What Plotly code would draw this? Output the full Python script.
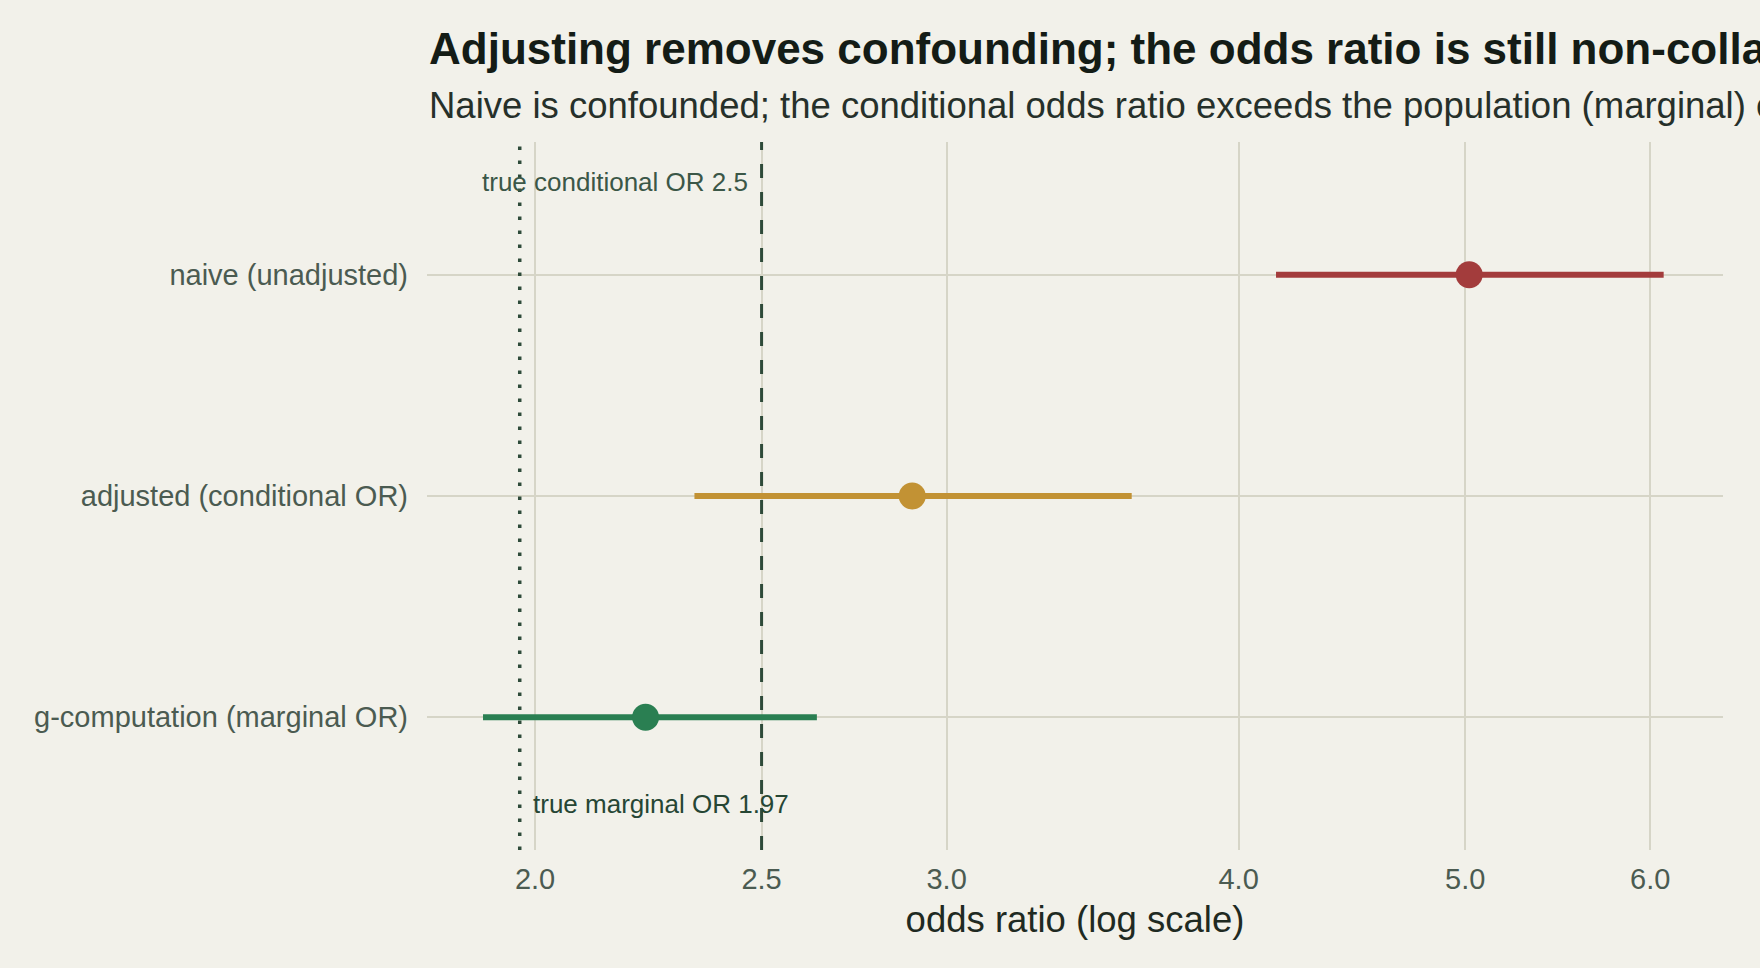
import math
import plotly.graph_objects as go

# ---- data ----
methods = ["naive (unadjusted)", "adjusted (conditional OR)", "g-computation (marginal OR)"]
or_est = [5.02, 2.90, 2.23]
ci_low = [4.15, 2.34, 1.90]
ci_high = [6.08, 3.60, 2.64]
method_colors = ["#a33c3c", "#c29234", "#2a7f52"]
true_conditional_or = 2.5
true_marginal_or = 1.97
x_tick_vals = [2.0, 2.5, 3.0, 4.0, 5.0, 6.0]
x_tick_text = ["2.0", "2.5", "3.0", "4.0", "5.0", "6.0"]

title_text = "Adjusting removes confounding; the odds ratio is still non-collapsible"
subtitle_text = ("Naive is confounded; the conditional odds ratio exceeds the population "
                 "(marginal) odds ratio")

FONT = "Liberation Sans, Arial, Helvetica, sans-serif"
BG = "#f2f1ea"
GRID = "#d6d5c7"
REF = "#2e4a39"

y_pos = list(range(len(methods)))
y_range = [2.6, -0.6]

fig = go.Figure()

# reference lines (drawn first, below the estimates)
fig.add_trace(go.Scatter(
    x=[true_marginal_or, true_marginal_or], y=[2.6, -0.59], mode="lines",
    line=dict(color=REF, width=3.5, dash="3.5px,10.5px"),
    hoverinfo="skip", showlegend=False))
fig.add_trace(go.Scatter(
    x=[true_conditional_or, true_conditional_or], y=y_range, mode="lines",
    line=dict(color=REF, width=3, dash="14px,14px"),
    hoverinfo="skip", showlegend=False))

for i, m in enumerate(methods):
    fig.add_trace(go.Scatter(
        x=[ci_low[i], ci_high[i]], y=[y_pos[i], y_pos[i]], mode="lines",
        line=dict(color=method_colors[i], width=6),
        hoverinfo="skip", showlegend=False))
    fig.add_trace(go.Scatter(
        x=[or_est[i]], y=[y_pos[i]], mode="markers",
        marker=dict(color=method_colors[i], size=27, line=dict(width=0)),
        name=m, showlegend=False))

fig.update_layout(
    width=1760, height=968,
    paper_bgcolor=BG, plot_bgcolor=BG,
    margin=dict(l=427, r=37, t=142, b=118, autoexpand=False),
    font=dict(family=FONT, color="#4a5a50"),
    showlegend=False,
)

fig.update_xaxes(
    type="log",
    range=[math.log10(1.798), math.log10(6.446)],
    tickvals=x_tick_vals, ticktext=x_tick_text,
    tickfont=dict(size=29, color="#4b5b51", family=FONT),
    showgrid=True, gridcolor=GRID, gridwidth=2,
    zeroline=False, showline=False, ticks="",
    ticklabelstandoff=9,
    title=dict(text="odds ratio (log scale)",
               font=dict(size=36.5, color="#1f2a22", family=FONT),
               standoff=12),
    automargin=False,
)
fig.update_yaxes(
    range=y_range,
    tickvals=y_pos, ticktext=methods,
    tickfont=dict(size=29, color="#4b5b51", family=FONT),
    showgrid=True, gridcolor=GRID, gridwidth=2,
    zeroline=False, showline=False, ticks="",
    ticklabelstandoff=18,
    automargin=False,
)

annotations = [
    dict(text=f"<b>{title_text}</b>", xref="paper", yref="paper",
         x=0, y=1.1315, xanchor="left", yanchor="middle", showarrow=False,
         font=dict(size=44, color="#141c16", family=FONT)),
    dict(text=subtitle_text, xref="paper", yref="paper",
         x=0, y=1.0515, xanchor="left", yanchor="middle", showarrow=False,
         font=dict(size=36.5, color="#26302a", family=FONT)),
    dict(text=f"true conditional OR {true_conditional_or}", xref="x", yref="y",
         x=math.log10(true_conditional_or), y=-0.42, xanchor="right", yanchor="middle",
         xshift=-12, showarrow=False,
         font=dict(size=26, color="#3b5747", family=FONT)),
    dict(text=f"true marginal OR {true_marginal_or}", xref="x", yref="y",
         x=math.log10(true_marginal_or), y=2.394, xanchor="left", yanchor="middle",
         xshift=11, showarrow=False,
         font=dict(size=26, color="#264634", family=FONT)),
]
fig.update_layout(annotations=annotations)

fig.write_html("out.html")
